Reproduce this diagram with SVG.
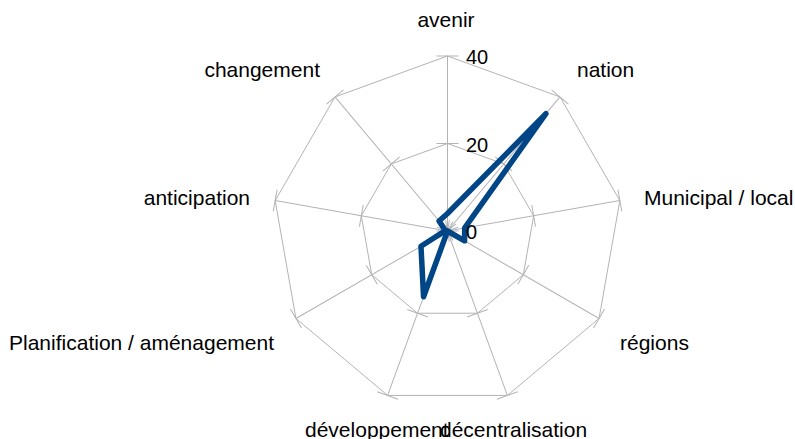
<svg xmlns="http://www.w3.org/2000/svg" width="795" height="439" viewBox="0 0 795 439">
<style>
.ax{fill:none;stroke:#b3b3b3;stroke-width:1}
.lbl{font-family:"Liberation Sans",Arial,sans-serif;font-size:21px;fill:#000}
.num{font-family:"Liberation Sans",Arial,sans-serif;font-size:20px;fill:#000}
.data{fill:none;stroke:#004586;stroke-width:5.5;stroke-linejoin:round;stroke-linecap:round}
</style>
<rect width="795" height="439" fill="#fff"/>
<g id="grid">
<polygon class="ax" points="447.5,56 560,96.95 619.84,200.62 599.05,318.5 507.35,395.45 387.65,395.45 295.95,318.5 275.16,200.62 335,96.95"/>
<polygon class="ax" points="447.5,143.5 503.75,163.97 533.67,215.81 523.28,274.75 477.43,313.22 417.57,313.22 371.72,274.75 361.33,215.81 391.25,163.97"/>
</g>
<g id="axes">
<path class="ax" id="axis-avenir" d="M447.5 231V56M436.5 231H458.5M436.5 143.5H458.5M436.5 56H458.5"/>
<path class="ax" id="axis-nation" transform="rotate(40 447.5 231)" d="M447.5 231V56M436.5 231H458.5M436.5 143.5H458.5M436.5 56H458.5"/>
<path class="ax" id="axis-municipal" transform="rotate(80 447.5 231)" d="M447.5 231V56M436.5 231H458.5M436.5 143.5H458.5M436.5 56H458.5"/>
<path class="ax" id="axis-regions" transform="rotate(120 447.5 231)" d="M447.5 231V56M436.5 231H458.5M436.5 143.5H458.5M436.5 56H458.5"/>
<path class="ax" id="axis-decentralisation" transform="rotate(160 447.5 231)" d="M447.5 231V56M436.5 231H458.5M436.5 143.5H458.5M436.5 56H458.5"/>
<path class="ax" id="axis-developpement" transform="rotate(200 447.5 231)" d="M447.5 231V56M436.5 231H458.5M436.5 143.5H458.5M436.5 56H458.5"/>
<path class="ax" id="axis-planification" transform="rotate(240 447.5 231)" d="M447.5 231V56M436.5 231H458.5M436.5 143.5H458.5M436.5 56H458.5"/>
<path class="ax" id="axis-anticipation" transform="rotate(280 447.5 231)" d="M447.5 231V56M436.5 231H458.5M436.5 143.5H458.5M436.5 56H458.5"/>
<path class="ax" id="axis-changement" transform="rotate(320 447.5 231)" d="M447.5 231V56M436.5 231H458.5M436.5 143.5H458.5M436.5 56H458.5"/>
</g>
<g id="series">
<polygon class="data" points="447.5,213.5 545.93,113.7 464.73,227.96 464.55,240.84 447.5,231 423.56,296.78 420.98,246.31 445.35,230.62 439.06,220.95"/>
</g>
<g id="scale">
<text class="num" x="466" y="64">40</text>
<text class="num" x="466" y="151.5">20</text>
<text class="num" x="466" y="239">0</text>
</g>
<g id="labels">
<text class="lbl" x="446" y="27" text-anchor="middle">avenir</text>
<text class="lbl" x="577" y="77">nation</text>
<text class="lbl" x="644" y="205">Municipal / local</text>
<text class="lbl" x="620" y="350">régions</text>
<text class="lbl" x="440" y="437">décentralisation</text>
<text class="lbl" x="305" y="437">développement</text>
<text class="lbl" x="274" y="350" text-anchor="end">Planification / aménagement</text>
<text class="lbl" x="250" y="205" text-anchor="end">anticipation</text>
<text class="lbl" x="320" y="77" text-anchor="end">changement</text>
</g>
</svg>
